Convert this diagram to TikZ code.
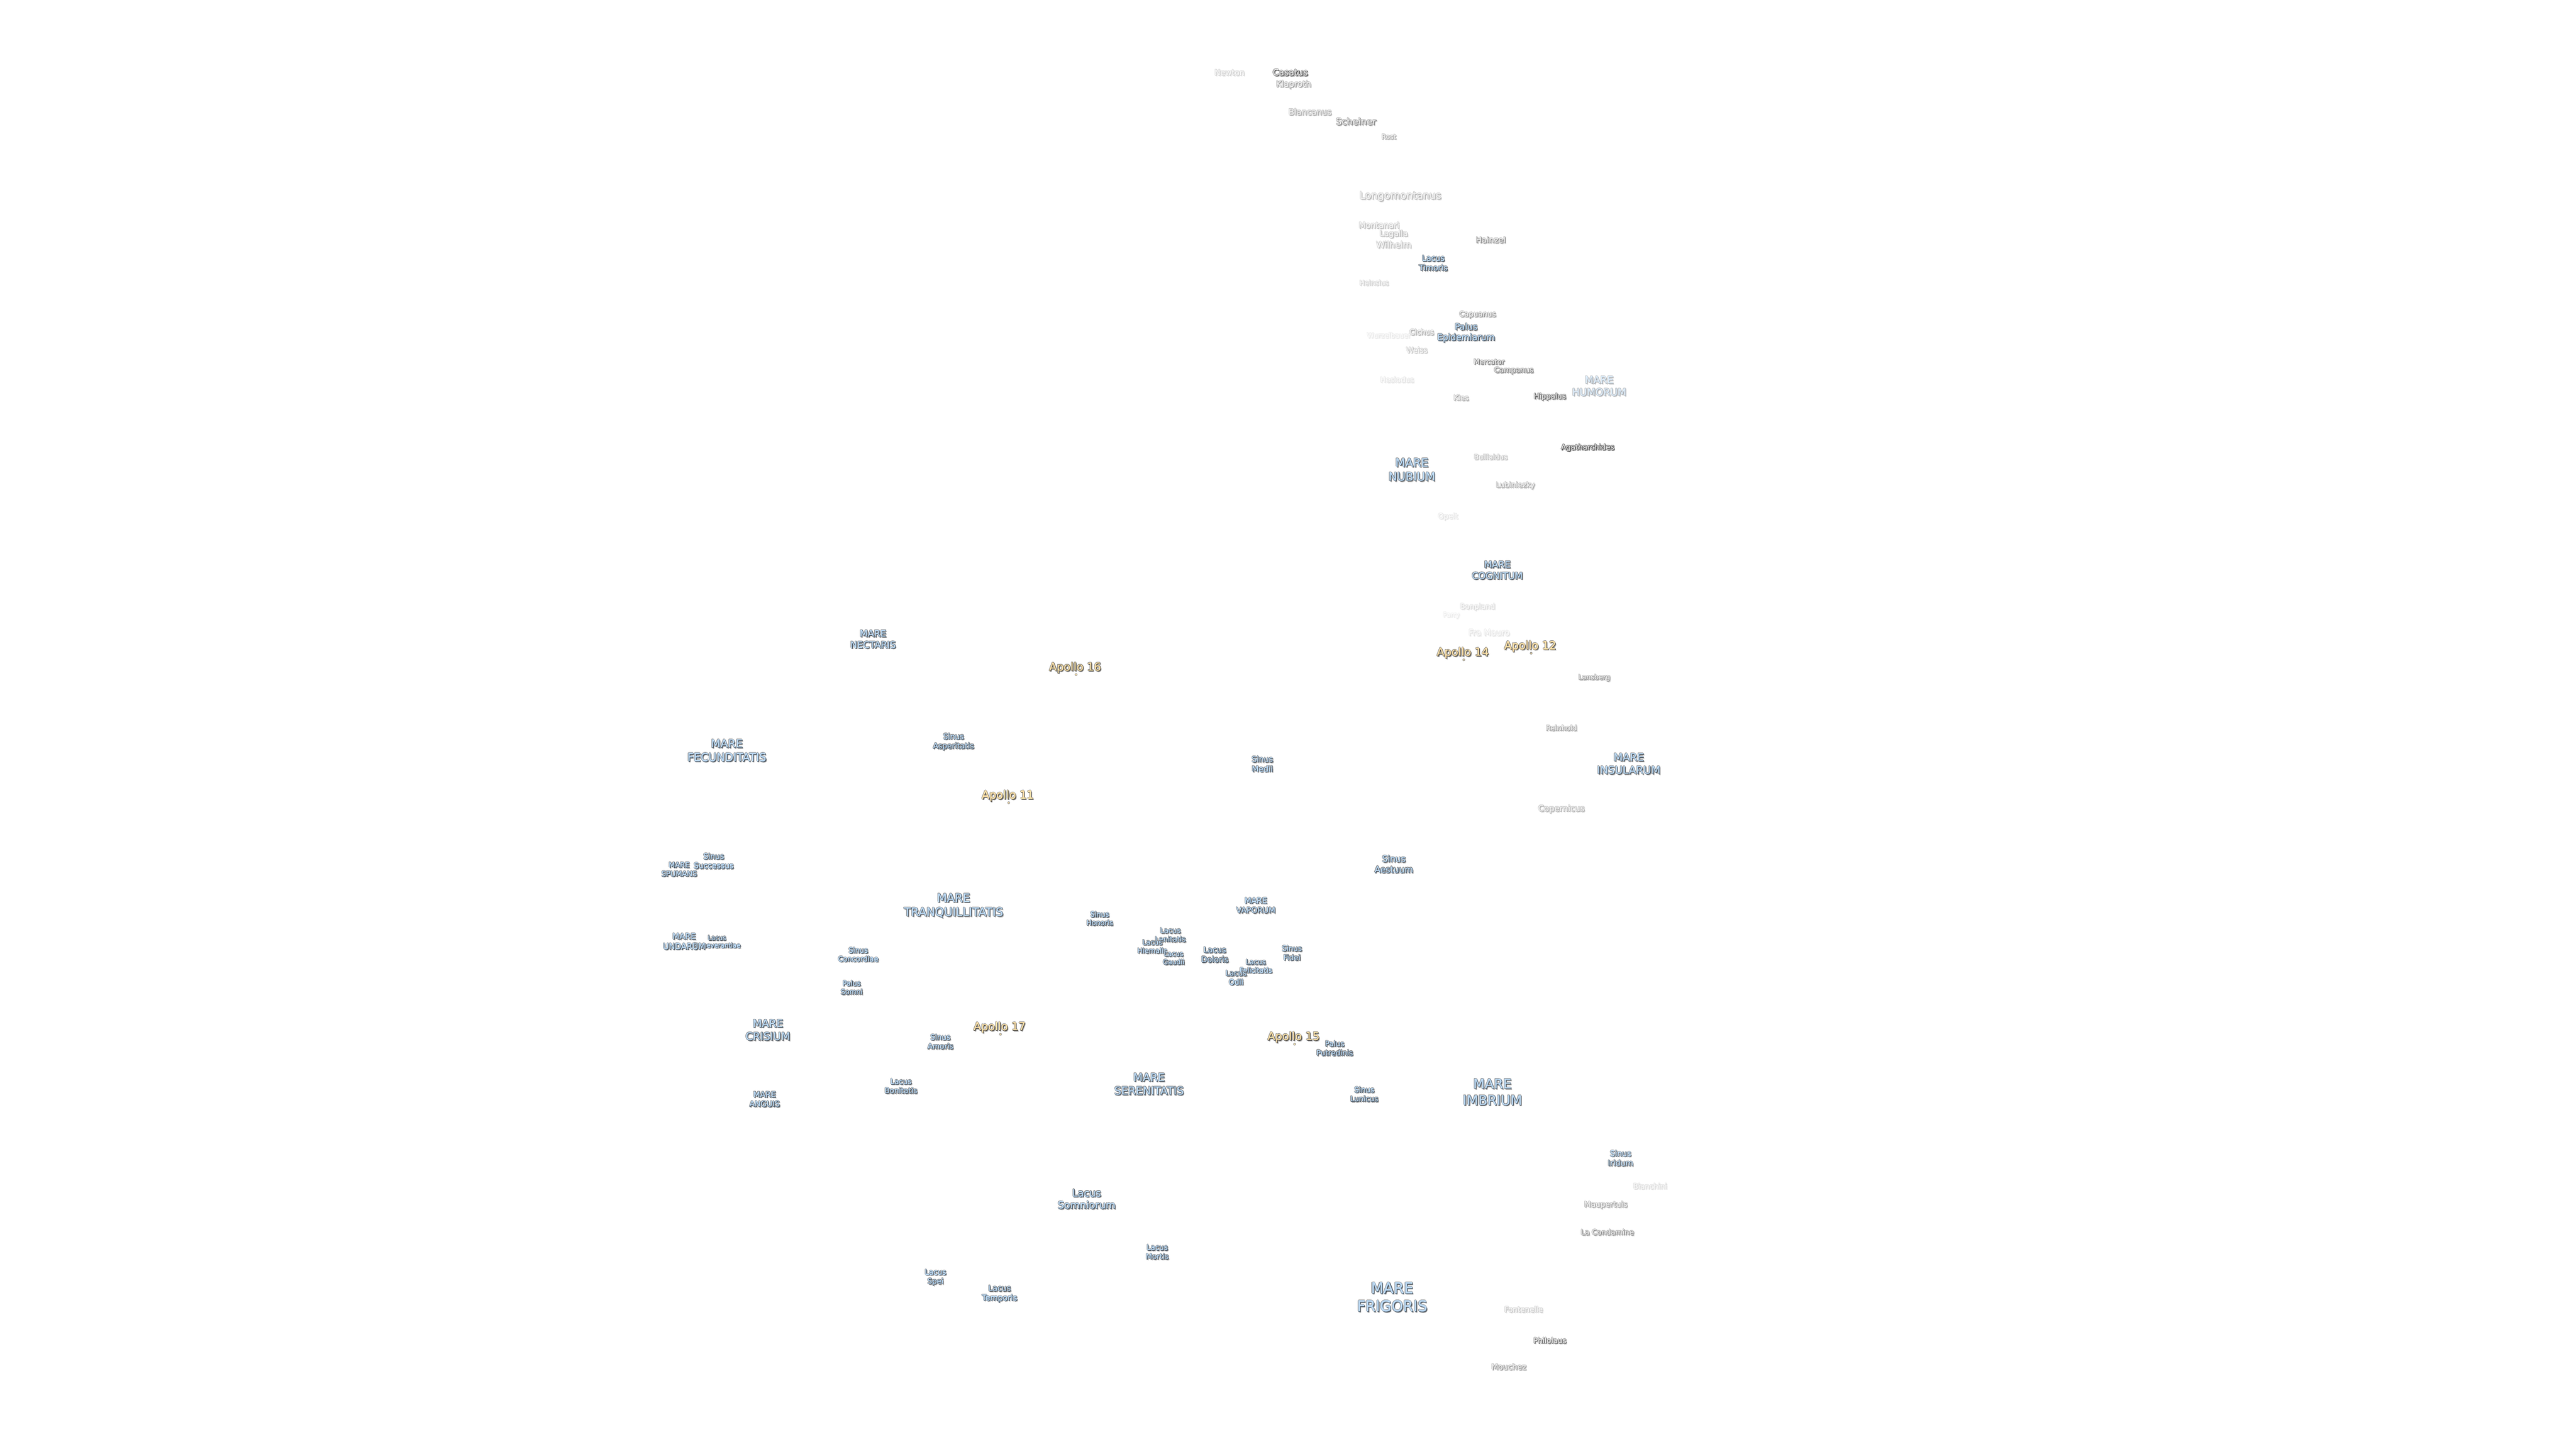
\documentclass[tikz,border=0pt]{standalone}
\usepackage{fontspec}
\setmainfont{DejaVu Sans}
\newbox\lblbox
\newcommand\lay[3]{\hbox to 0pt{\kern#1pt\raise#2pt\hbox{\color{#3}\copy\lblbox}\hss}}
\newcommand\lblbody[5]{%
 \dimen0=#1pt \dimen0=0.258\dimen0 \dimen2=1.22\dimen0
 \fontsize{\the\dimen0}{\the\dimen2}\selectfont
 \setbox\lblbox\hbox{\begin{tabular}{@{}c@{}}#5\end{tabular}}%
 \colorlet{lf}{#2!#4!white}\colorlet{ld}{#3!#4!white}%
 \colorlet{ls}{black!22!white}\colorlet{ls}{ls!#4!white}%
 \colorlet{lt}{black!48!white}\colorlet{lt}{lt!#4!white}%
 \hbox{\lay{0.75}{-0.8}{ls}\lay{0.55}{-0.6}{lt}%
  \lay{-0.3}{0.05}{lt}\lay{0}{0.3}{lt}\lay{-0.22}{0.22}{lt}\lay{0.25}{0.1}{lt}\lay{-0.1}{-0.25}{lt}%
  \lay{0.3}{-0.32}{ld}\lay{0.36}{-0.15}{ld}\lay{0.15}{-0.36}{ld}%
  \lay{0.07}{0}{lf}\lay{0}{-0.07}{lf}%
  \color{lf}\copy\lblbox}}
\definecolor{marefill}{HTML}{BBD8F2}\definecolor{maredark}{HTML}{3E4A56}
\definecolor{cratfill}{HTML}{DCDCDC}\definecolor{cratdark}{HTML}{303030}
\definecolor{apofill}{HTML}{FBDFA8}\definecolor{apodark}{HTML}{46423C}
\tikzset{lbl/.style={inner sep=0pt,outer sep=0pt,anchor=center},
 apollodot/.style={circle,inner sep=0pt,minimum size=1.2pt,fill=apofill,draw=black!45,line width=0.25pt}}
% name x y size fade text
\newcommand\mare[6]{\node[lbl] (#1) at (#2+0.4,#3+1) {\lblbody{#4}{marefill}{maredark}{#5}{#6}};}
\newcommand\crat[6]{\node[lbl] (#1) at (#2+0.4,#3+1) {\lblbody{#4}{cratfill}{cratdark}{#5}{#6}};}
\newcommand\apo[4]{\node[lbl] (#1) at (#2+0.4,#3+1) {\lblbody{24}{apofill}{apodark}{100}{#4}};
 \node[apollodot] (#1dot) at (#2+1,#3+4.7) {};}
\begin{document}
\begin{tikzpicture}[x=0.91837pt,y=-0.91837pt]
\useasboundingbox (0,0) rectangle (1568,882);
\fill[white] (0,0) rectangle (1568,882);
\crat{newton}{748}{44}{17}{25}{Newton}
\crat{casatus}{785}{44}{19}{100}{Casatus}
\crat{klaproth}{787}{51}{18}{55}{Klaproth}
\crat{blancanus}{797}{68}{18}{45}{Blancanus}
\crat{scheiner}{825}{74}{20}{65}{Scheiner}
\crat{rost}{845}{83}{14.5}{45}{Rost}
\crat{longo}{852}{119}{22}{40}{Longomontanus}
\crat{montanari}{839}{137}{17.4}{35}{Montanari}
\crat{lagalla}{848}{142}{17}{40}{Lagalla}
\crat{wilhelm}{848}{149}{19}{35}{Wilhelm}
\crat{hainzel}{907}{146}{17.5}{60}{Hainzel}
\mare{timoris}{872}{160}{17}{100}{Lacus\\Timoris}
\crat{heinsius}{836}{172}{15}{25}{Heinsius}
\crat{capuanus}{899}{191}{16}{55}{Capuanus}
\crat{wurzel}{845}{204}{15}{12}{Wurzelbauer}
\crat{cichus}{865}{202}{16}{40}{Cichus}
\mare{epidem}{892}{202}{18.7}{100}{Palus\\Epidemiarum}
\crat{weiss}{862}{213}{16}{30}{Weiss}
\crat{mercator}{906}{220}{15}{65}{Mercator}
\crat{campanus}{921}{225}{16}{65}{Campanus}
\mare{humorum}{973}{235}{21.6}{50}{MARE\\HUMORUM}
\crat{hesiodus}{850}{231}{16}{15}{Hesiodus}
\crat{kies}{889}{242}{16}{45}{Kies}
\crat{hippalus}{943}{241}{16}{85}{Hippalus}
\crat{agath}{966}{272}{16}{100}{Agatharchides}
\crat{bullialdus}{907}{278}{15}{35}{Bullialdus}
\mare{nubium}{859}{286}{25}{100}{MARE\\NUBIUM}
\crat{lubiniezky}{922}{295}{16}{45}{Lubiniezky}
\crat{opelt}{881}{314}{16}{15}{Opelt}
\mare{cognitum}{911}{347}{20}{100}{MARE\\COGNITUM}
\crat{bonpland}{899}{369}{16}{20}{Bonpland}
\crat{parry}{883}{374}{14}{10}{Parry}
\crat{framauro}{906}{385}{18}{15}{Fra Mauro}
\apo{ap14}{890}{397}{Apollo 14}
\apo{ap12}{931}{393}{Apollo 12}
\crat{lansberg}{970}{412}{15}{55}{Lansberg}
\crat{reinhold}{950}{443}{15.5}{50}{Reinhold}
\mare{insularum}{991}{465}{23}{100}{MARE\\INSULARUM}
\crat{copernicus}{950}{492}{18}{40}{Copernicus}
\mare{medii}{768}{465}{17}{100}{Sinus\\Medii}
\mare{nectaris}{531}{389}{20}{100}{MARE\\NECTARIS}
\apo{ap16}{654}{406}{Apollo 16}
\mare{asperitatis}{580}{451}{16.6}{100}{Sinus\\Asperitatis}
\mare{fecunditatis}{442}{457}{24}{100}{MARE\\FECUNDITATIS}
\apo{ap11}{613}{484}{Apollo 11}
\mare{spumans}{413}{529}{15.7}{100}{MARE\\SPUMANS}
\mare{successus}{434}{524}{16.6}{100}{Sinus\\Successus}
\mare{persev}{436}{573}{13.6}{100}{Lacus\\Perseverantiae}
\mare{undarum}{416}{573}{17.6}{100}{MARE\\UNDARUM}
\mare{concordiae}{522}{581}{15.5}{100}{Sinus\\Concordiae}
\mare{somni}{518}{601}{15}{100}{Palus\\Somni}
\mare{tranq}{580}{551}{25}{100}{MARE\\TRANQUILLITATIS}
\mare{crisium}{467}{627}{23}{100}{MARE\\CRISIUM}
\mare{anguis}{465}{669}{17}{100}{MARE\\ANGUIS}
\mare{amoris}{572}{634}{16}{100}{Sinus\\Amoris}
\mare{bonitatis}{548}{661}{16}{100}{Lacus\\Bonitatis}
\apo{ap17}{608}{625}{Apollo 17}
\mare{serenitatis}{699}{660}{23.8}{100}{MARE\\SERENITATIS}
\mare{honoris}{669}{559}{15}{100}{Sinus\\Honoris}
\mare{lenitatis}{712}{569}{15.6}{100}{Lacus\\Lenitatis}
\mare{hiemalis}{701}{576}{15}{100}{Lacus\\Hiemalis}
\mare{gaudii}{714}{583}{14.5}{100}{Lacus\\Gaudii}
\mare{doloris}{739}{581}{17}{100}{Lacus\\Doloris}
\mare{felicitatis}{764}{588}{15}{100}{Lacus\\Felicitatis}
\mare{odii}{752}{595}{16}{100}{Lacus\\Odii}
\mare{vaporum}{764}{551}{17}{100}{MARE\\VAPORUM}
\mare{fidei}{786}{580}{16}{100}{Sinus\\Fidei}
\mare{aestuum}{848}{526}{18.8}{100}{Sinus\\Aestuum}
\apo{ap15}{787}{631}{Apollo 15}
\mare{putredinis}{812}{638}{16}{100}{Palus\\Putredinis}
\mare{lunicus}{830}{666}{16}{100}{Sinus\\Lunicus}
\mare{imbrium}{908}{665}{29}{100}{MARE\\IMBRIUM}
\mare{iridum}{986}{705}{17}{90}{Sinus\\Iridum}
\crat{bianchini}{1004}{722}{16}{20}{Bianchini}
\crat{maupertuis}{977}{733}{16.7}{50}{Maupertuis}
\crat{condamine}{978}{750}{16}{60}{La Condamine}
\crat{fontenelle}{927}{797}{16}{30}{Fontenelle}
\crat{philolaus}{943}{816}{16}{80}{Philolaus}
\crat{mouchez}{918}{832}{17}{55}{Mouchez}
\mare{somniorum}{661}{730}{21.7}{100}{Lacus\\Somniorum}
\mare{mortis}{704}{762}{16}{100}{Lacus\\Mortis}
\mare{spei}{569}{777}{16}{100}{Lacus\\Spei}
\mare{temporis}{608}{787}{17}{100}{Lacus\\Temporis}
\mare{frigoris}{847}{790}{32}{100}{MARE\\FRIGORIS}
\end{tikzpicture}
\end{document}
